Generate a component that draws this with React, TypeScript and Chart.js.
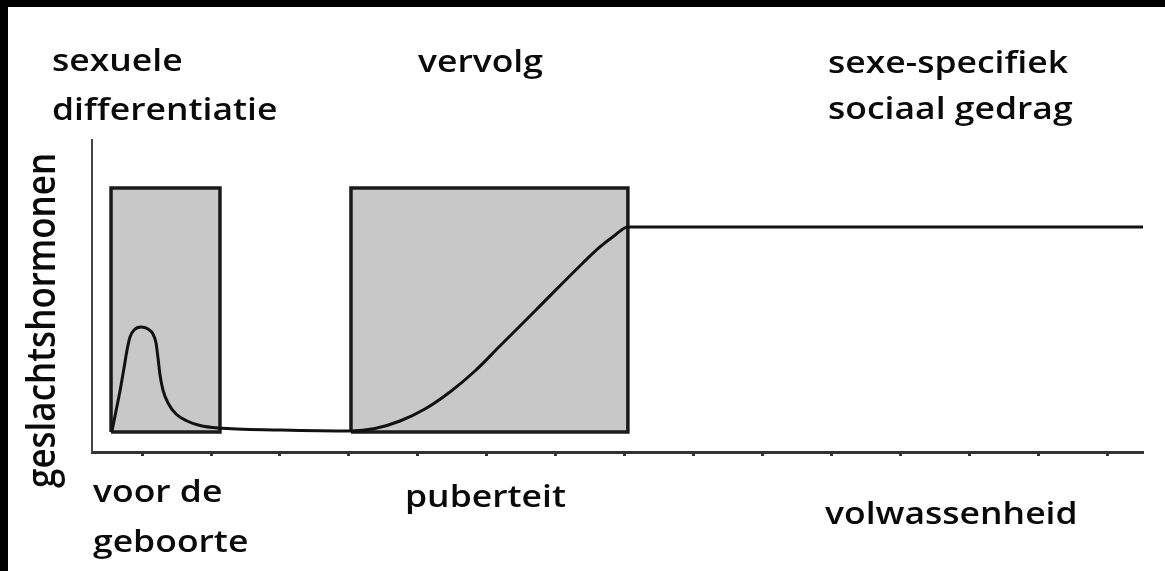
import React, { useEffect, useRef } from "react";
import { Chart, registerables } from "chart.js";

Chart.register(...registerables);

// ---- data ----
const xTicks = [1, 2, 3, 4, 5, 6, 7, 8, 9, 10, 11, 12, 13, 14, 15];
const xMin = 0.275;
const xMax = 15.51;
const yMin = 0;
const yMax = 100;

// hormone curve (x in tick units, y in relative level)
const curveX = [0.565, 0.623, 0.681, 0.739, 0.783, 0.826, 0.884, 0.986, 1.087, 1.159, 1.203, 1.232, 1.261, 1.304, 1.377, 1.493, 1.652, 1.841, 2.101, 3.0, 4.029, 4.377, 4.739, 5.101, 5.464, 5.826, 6.188, 6.725, 7.391, 7.638, 7.841, 8.043, 15.51];
const curveY = [6.73, 13.14, 19.55, 26.92, 32.69, 36.86, 39.1, 40.06, 39.42, 37.82, 34.94, 30.13, 24.68, 19.87, 15.71, 12.18, 9.94, 8.49, 7.69, 7.05, 6.73, 7.53, 9.94, 13.78, 19.23, 25.96, 33.97, 45.83, 60.58, 65.71, 69.23, 72.12, 72.12];

// sensitive periods (grey boxes)
const boxStart = [0.551, 4.029];
const boxEnd = [2.13, 8.043];
const boxLow = [6.4, 6.4];
const boxHigh = [84.6, 84.6];

// texts
const topLabels = [["sexuele", "differentiatie"], ["vervolg"], ["sexe-specifiek", "sociaal gedrag"]];
const bottomLabels = [["voor de", "geboorte"], ["puberteit"], ["volwassenheid"]];
const yAxisTitle = "geslachtshormonen";

// ---- layout / style (not data) ----
const W = 1165;
const H = 571;
const TEXT_FONT = '600 31px "Open Sans"';
const TITLE_FONT = '600 35px "Open Sans"';
const STRETCH = 1.145;
const topPos = [
  { x: 52, baselines: [71, 120] },
  { x: 418, baselines: [72] },
  { x: 828, baselines: [73, 119] },
];
const bottomPos = [
  { x: 93, baselines: [502, 552] },
  { x: 405, baselines: [507] },
  { x: 825, baselines: [524] },
];
const yTitlePos = { x: 55, y: 488 };

const textPlugin = {
  id: "phaseTexts",
  afterDraw(chart: any) {
    const ctx = chart.ctx as CanvasRenderingContext2D;
    ctx.save();
    ctx.fillStyle = "#0a0a0a";
    ctx.textAlign = "left";
    ctx.textBaseline = "alphabetic";
    ctx.font = TEXT_FONT;
    const drawGroup = (labels: string[][], pos: { x: number; baselines: number[] }[]) => {
      labels.forEach((lines, i) => {
        lines.forEach((line, j) => {
          ctx.save();
          ctx.translate(pos[i].x, pos[i].baselines[j]);
          ctx.scale(STRETCH, 1);
          ctx.fillText(line, 0, 0);
          ctx.restore();
        });
      });
    };
    drawGroup(topLabels, topPos);
    drawGroup(bottomLabels, bottomPos);
    ctx.font = TITLE_FONT;
    ctx.save();
    ctx.translate(yTitlePos.x, yTitlePos.y);
    ctx.rotate(-Math.PI / 2);
    ctx.scale(1, STRETCH);
    ctx.fillText(yAxisTitle, 0, 0);
    ctx.restore();
    ctx.restore();
  },
};

export default function App() {
  const canvasRef = useRef<HTMLCanvasElement | null>(null);

  useEffect(() => {
    const canvas = canvasRef.current;
    if (!canvas) return;

    const curveData = curveX.map((x, i) => ({ x, y: curveY[i] }));
    const outlineData: { x: number; y: number | null }[] = [];
    const fillData: { x: number; y: number | null }[] = [];
    boxStart.forEach((s, i) => {
      const e = boxEnd[i];
      const lo = boxLow[i];
      const hi = boxHigh[i];
      outlineData.push({ x: s, y: lo }, { x: s, y: hi }, { x: e, y: hi }, { x: e, y: lo }, { x: s, y: lo }, { x: e, y: null });
      fillData.push({ x: s, y: hi }, { x: e, y: hi }, { x: e, y: null });
    });

    const chart = new Chart(canvas, {
      type: "line",
      data: {
        datasets: [
          {
            data: curveData,
            borderColor: "#111",
            borderWidth: 3,
            pointRadius: 0,
            cubicInterpolationMode: "monotone",
            fill: false,
          },
          {
            data: outlineData,
            borderColor: "#1a1a1a",
            borderWidth: 3.5,
            pointRadius: 0,
            tension: 0,
            spanGaps: false,
            borderJoinStyle: "miter",
            fill: false,
          },
          {
            data: fillData,
            borderWidth: 0,
            borderColor: "rgba(0,0,0,0)",
            backgroundColor: "#c8c8c8",
            pointRadius: 0,
            tension: 0,
            spanGaps: false,
            fill: { value: boxLow[0] },
          },
        ],
      } as any,
      options: {
        animation: false,
        responsive: false,
        devicePixelRatio: 1,
        events: [],
        layout: { padding: { left: 92, top: 140, right: 22, bottom: 115 } },
        plugins: {
          legend: { display: false },
          tooltip: { enabled: false },
        },
        scales: {
          x: {
            type: "linear",
            min: xMin,
            max: xMax,
            afterBuildTicks: (scale: any) => {
              scale.ticks = xTicks.map((v) => ({ value: v }));
            },
            ticks: { display: false },
            grid: {
              display: true,
              drawOnChartArea: false,
              drawTicks: true,
              tickLength: 4,
              tickWidth: 3,
              tickColor: "#333",
            },
            border: { display: true, color: "#333", width: 3 },
          },
          y: {
            type: "linear",
            min: yMin,
            max: yMax,
            ticks: { display: false },
            grid: { display: false, drawTicks: false },
            border: { display: true, color: "#444", width: 2 },
          },
        },
      } as any,
      plugins: [textPlugin],
    });

    return () => {
      chart.destroy();
    };
  }, []);

  return (
    <div style={{ position: "fixed", left: 0, top: 0, width: W, height: H, background: "#fff", overflow: "hidden" }}>
      <canvas ref={canvasRef} width={W} height={H} style={{ display: "block", width: W, height: H }} />
      <div style={{ position: "absolute", left: 0, top: 0, width: W, height: 7, background: "#000" }} />
      <div style={{ position: "absolute", left: 0, top: 0, width: 8, height: H, background: "#000" }} />
    </div>
  );
}
